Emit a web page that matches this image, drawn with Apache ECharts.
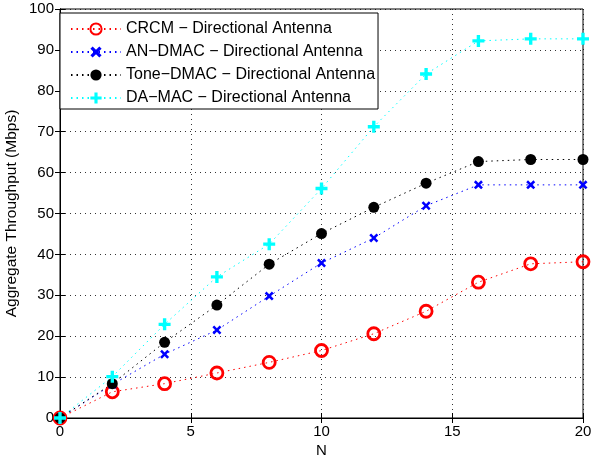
<!DOCTYPE html>
<html>
<head>
<meta charset="utf-8">
<script src="https://cdn.jsdelivr.net/npm/echarts@6/dist/echarts.min.js"></script>
<style>
  html, body { margin: 0; padding: 0; background: #fff; }
  #chart { width: 591px; height: 465px; }
</style>
</head>
<body>
<div id="chart"></div>
<script>
// Number of nodes
const nValues = [0, 2, 4, 6, 8, 10, 12, 14, 16, 18, 20];

// Aggregate throughput (Mbps) per protocol
const crcm    = [0, 6.4, 8.4, 11.0, 13.6, 16.5, 20.6, 26.1, 33.2, 37.7, 38.2];
const anDmac  = [0, 8.2, 15.6, 21.5, 29.8, 37.9, 44.0, 51.9, 57.0, 57.0, 57.0];
const toneDmac = [0, 8.4, 18.5, 27.6, 37.6, 45.1, 51.5, 57.4, 62.7, 63.2, 63.2];
const daMac   = [0, 10.1, 22.9, 34.5, 42.5, 56.1, 71.2, 84.1, 92.2, 92.7, 92.7];

const seriesNames = [
  'CRCM \u2212 Directional Antenna',
  'AN\u2212DMAC \u2212 Directional Antenna',
  'Tone\u2212DMAC \u2212 Directional Antenna',
  'DA\u2212MAC \u2212 Directional Antenna'
];

const xTicks = { min: 0, max: 20, interval: 5 };
const yTicks = { min: 0, max: 100, interval: 10 };

const FONT = '"Liberation Sans", Arial, Helvetica, sans-serif';

function pairs(ys) { return nValues.map((x, i) => [x, ys[i]]); }

const xMark = 'path://M2,0 L5,3 L8,0 L10,2 L7,5 L10,8 L8,10 L5,7 L2,10 L0,8 L3,5 L0,2 Z';
const plusMark = 'path://M3.6,0 L6.4,0 L6.4,3.6 L10,3.6 L10,6.4 L6.4,6.4 L6.4,10 L3.6,10 L3.6,6.4 L0,6.4 L0,3.6 L3.6,3.6 Z';

const dotted = [1.5, 4];

function lineSeries(name, ys, color, symbol, size, itemStyle) {
  return {
    name: name,
    type: 'line',
    data: pairs(ys),
    symbol: symbol,
    symbolSize: size,
    showAllSymbol: true,
    lineStyle: { color: color, width: 1, type: dotted },
    itemStyle: Object.assign({ color: color }, itemStyle || {}),
    emphasis: { disabled: true },
    animation: false,
    z: 3
  };
}

const chart = echarts.init(document.getElementById('chart'), null, { renderer: 'canvas' });

const tickFont = { fontFamily: FONT, fontSize: 15, color: '#000' };

chart.setOption({
  backgroundColor: '#fff',
  animation: false,
  grid: {
    show: true, borderColor: '#000', borderWidth: 1, backgroundColor: '#fff',
    left: 60, right: 8, top: 9, bottom: 47,
    containLabel: false,
    outerBoundsMode: 'none'
  },
  legend: {
    data: seriesNames,
    orient: 'vertical',
    left: 60,
    top: 13,
    backgroundColor: '#fff',
    borderColor: '#000',
    borderWidth: 1,
    borderRadius: 0,
    padding: [8, 3, 3, 10],
    itemWidth: 50,
    itemHeight: 14,
    itemGap: 7,
    textStyle: { fontFamily: FONT, fontSize: 16, color: '#000' },
    selectedMode: false
  },
  xAxis: [{
    type: 'value',
    min: xTicks.min, max: xTicks.max, interval: xTicks.interval,
    name: 'N',
    nameLocation: 'middle',
    nameGap: 25,
    nameMoveOverlap: false,
    nameTextStyle: tickFont,
    axisLine: { show: true, lineStyle: { color: '#000', width: 1 } },
    axisTick: { show: true, inside: true, length: 5, lineStyle: { color: '#000' } },
    axisLabel: Object.assign({ margin: 6 }, tickFont),
    splitLine: { show: true, lineStyle: { color: '#000', width: 0.8, type: [1, 4] } }
  }, {
    type: 'value', position: 'top',
    min: xTicks.min, max: xTicks.max, interval: xTicks.interval,
    axisLine: { show: true, lineStyle: { color: '#000' } },
    axisTick: { show: true, inside: true, length: 5, lineStyle: { color: '#000' } },
    axisLabel: { show: false },
    splitLine: { show: false }
  }],
  yAxis: [{
    type: 'value',
    min: yTicks.min, max: yTicks.max, interval: yTicks.interval,
    name: 'Aggregate Throughput (Mbps)',
    nameLocation: 'middle',
    nameGap: 40,
    nameMoveOverlap: false,
    nameTextStyle: { fontFamily: FONT, fontSize: 15.5, color: '#000' },
    axisLine: { show: true, lineStyle: { color: '#000', width: 1 } },
    axisTick: { show: true, inside: true, length: 5, lineStyle: { color: '#000' } },
    axisLabel: Object.assign({ margin: 6 }, tickFont),
    splitLine: { show: true, lineStyle: { color: '#000', width: 0.8, type: [1, 4] } }
  }, {
    type: 'value', position: 'right',
    min: yTicks.min, max: yTicks.max, interval: yTicks.interval,
    axisLine: { show: true, lineStyle: { color: '#000' } },
    axisTick: { show: true, inside: true, length: 5, lineStyle: { color: '#000' } },
    axisLabel: { show: false },
    splitLine: { show: false }
  }],
  series: [
    lineSeries(seriesNames[0], crcm, '#ff0000', 'circle', 12,
      { color: 'rgba(255,255,255,0)', borderColor: '#ff0000', borderWidth: 2.8 }),
    lineSeries(seriesNames[1], anDmac, '#0000ff', xMark, 9),
    lineSeries(seriesNames[2], toneDmac, '#000000', 'circle', 11),
    lineSeries(seriesNames[3], daMac, '#00ffff', plusMark, 12)
  ]
});
</script>
</body>
</html>
